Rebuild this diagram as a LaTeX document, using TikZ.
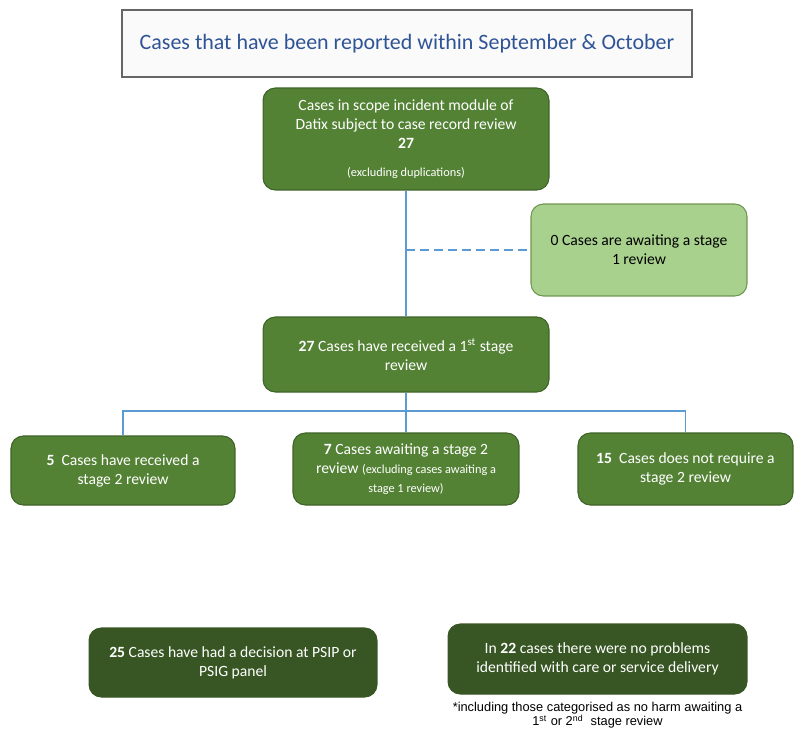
\documentclass[tikz,border=0pt]{standalone}
\usepackage{fontspec}
\setmainfont{Carlito}
\newfontfamily\arialfont{Liberation Sans}
\usepackage{tikz}
\usetikzlibrary{positioning,calc}
\definecolor{boxgreen}{HTML}{548235}
\definecolor{boxedge}{HTML}{3E6327}
\definecolor{lightgreen}{HTML}{A9D18E}
\definecolor{lightedge}{HTML}{6E9651}
\definecolor{darkgreen}{HTML}{375623}
\definecolor{linkblue}{HTML}{5B9BD5}
\definecolor{titleblue}{HTML}{2F5496}
\tikzset{
  greenbox/.style={draw=boxedge,fill=boxgreen,rounded corners=7pt,text=white,
    align=center,font=\fontsize{8.9}{10.8}\selectfont,line width=0.6pt},
  lightbox/.style={greenbox,draw=lightedge,fill=lightgreen,text=black},
  darkbox/.style={greenbox,draw=darkgreen,fill=darkgreen},
  link/.style={linkblue,line width=0.6pt}
}
\newcommand{\smalltxt}{\fontsize{7}{8.4}\selectfont}

\begin{document}
\begin{tikzpicture}[x=0.02cm,y=-0.02cm]
    \useasboundingbox (0,0) rectangle (795,731);
    % title
    \node[draw=black!60,fill=black!2,line width=1pt,minimum width=11.4cm,minimum height=1.34cm,
      text=titleblue,font=\fontsize{12.5}{14}\selectfont] (title) at (407,43.5)
      {Cases that have been reported within September \& October};
    % first stage
    \node[greenbox,minimum width=5.72cm,minimum height=2.04cm] (scope) at (406,139)
      {Cases in scope incident module of\\Datix subject to case record review\\\textbf{27}\\[5pt]
       {\smalltxt(excluding duplications)}};
    \node[lightbox,minimum width=4.32cm,minimum height=1.84cm] (waiting) at (639,250)
      {0 Cases are awaiting a stage\\1 review};
    \node[greenbox,minimum width=5.72cm,minimum height=1.5cm] (first) at (406,354.5)
      {\textbf{27} Cases have received a 1\textsuperscript{st} stage\\review};
    % second stage
    \node[greenbox,minimum width=4.48cm,minimum height=1.38cm] (done) at (123,470.5)
      {\textbf{5}\ \ Cases have received a\\stage 2 review};
    \node[greenbox,minimum width=4.52cm,minimum height=1.44cm] (await) at (406,469)
      {\textbf{7} Cases awaiting a stage 2\\review {\smalltxt(excluding cases awaiting a}\\
       {\smalltxt stage 1 review)}};
    \node[greenbox,minimum width=4.3cm,minimum height=1.44cm] (noneed) at (685.5,469)
      {\textbf{15}\ \ Cases does not require a\\stage 2 review};
    % outcomes
    \node[darkbox,minimum width=5.76cm,minimum height=1.38cm] (panel) at (233,662.5)
      {\textbf{25} Cases have had a decision at PSIP or\\PSIG panel};
    \node[darkbox,minimum width=5.98cm,minimum height=1.4cm] (noprob) at (597.5,659)
      {In \textbf{22} cases there were no problems\\identified with care or service delivery};
    \node[below=3pt of noprob,align=center,inner sep=1pt,
      font=\arialfont\fontsize{7.3}{8}\selectfont] (note)
      {*including those categorised as no harm awaiting a\\
       1{\fontsize{5}{5}\selectfont\textsuperscript{st}} or 2{\fontsize{5}{5}\selectfont\textsuperscript{nd}}\ \ stage review};
    % connectors
    \draw[link] (scope.south) -- (first.north);
    \draw[link,dashed,dash pattern=on 5pt off 3pt] (scope.south |- waiting.west) -- (waiting.west);
    \draw[link] (first.south) -- (await.north);
    \coordinate (fork) at (406,411);
    \draw[link] (done.north) |- (fork) -| (noneed.north);
\end{tikzpicture}
\end{document}
